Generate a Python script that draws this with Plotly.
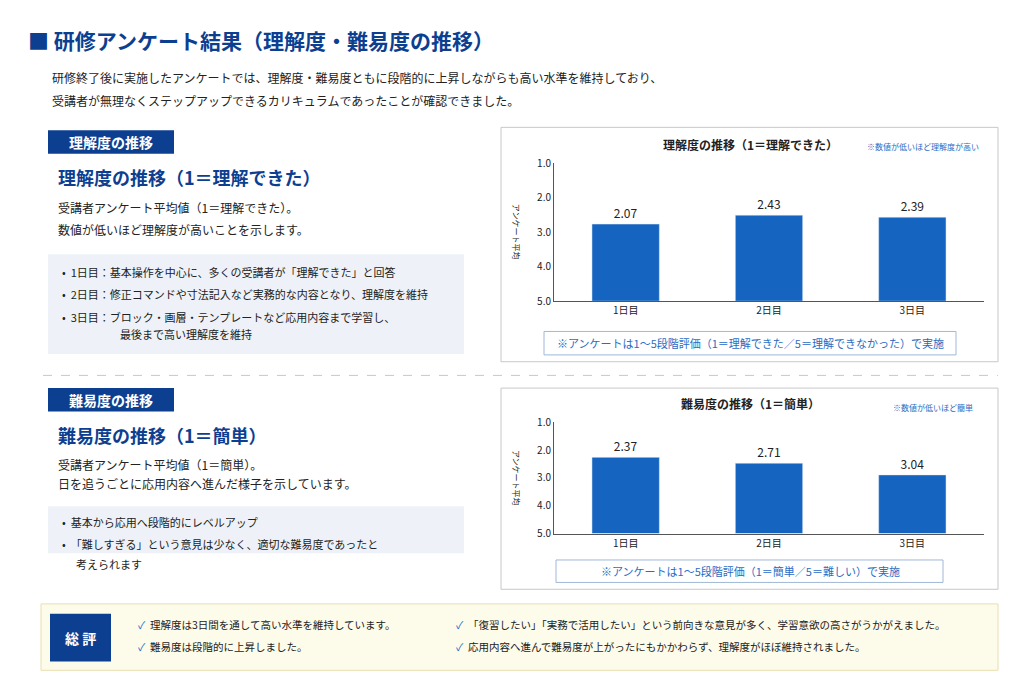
import plotly.graph_objects as go

days = ["1日目", "2日目", "3日目"]
# label values shown above bars, and bar tops as they are drawn in the picture
rikai_labels = ["2.07", "2.43", "2.39"]
rikai_tops = [2.76, 2.50, 2.56]
nani_labels = ["2.37", "2.71", "3.04"]
nani_tops = [2.26, 2.47, 2.89]
y_ticks = [1.0, 2.0, 3.0, 4.0, 5.0]

W, H = 1024, 683
NAVY = "#0d3f91"
BLUE = "#1565c0"
TXT = "#222222"
FONT = "Noto Sans CJK JP"

def px(x):
    return x / W

def py(y):
    return 1 - y / H

fig = go.Figure()

def add_chart(xa, ya, tops, labels, y0, y1):
    fig.add_trace(go.Bar(
        x=days, y=[t - 5 for t in tops], base=5, width=0.47,
        marker_color=BLUE, text=labels, textposition="outside",
        textfont=dict(size=12, color=TXT, family=FONT),
        cliponaxis=False, xaxis=xa, yaxis=ya, showlegend=False))
    n = xa[1:] if len(xa) > 1 else ""
    fig.layout["xaxis" + n] = dict(domain=[px(546), px(976)], anchor=ya,
                                    range=[-0.5, 2.5], showline=True, linecolor="#555",
                                    tickfont=dict(size=10, color=TXT), ticks="")
    fig.layout["yaxis" + n] = dict(domain=[py(y1), py(y0)], anchor=xa,
                                    range=[5, 1], tickvals=y_ticks,
                                    ticktext=[f"{v:.1f}" for v in y_ticks],
                                    showline=True, linecolor="#555", showgrid=False,
                                    zeroline=False, tickfont=dict(size=10, color=TXT))

add_chart("x", "y", rikai_tops, rikai_labels, 150, 291)
add_chart("x2", "y2", nani_tops, nani_labels, 415, 529)

shapes = []
ann = []

def rect(x0, y0, x1, y1, fill, line=None, lw=1, dash=None):
    shapes.append(dict(type="rect", xref="paper", yref="paper", layer="below",
                       x0=px(x0), x1=px(x1), y0=py(y1), y1=py(y0), fillcolor=fill,
                       line=dict(color=line or fill, width=lw if line else 0, dash=dash)))

def text(x, y, s, size=12, color=TXT, bold=False, anchor="left", angle=0):
    ann.append(dict(xref="paper", yref="paper", x=px(x), y=py(y), text=f"<b>{s}</b>" if bold else s,
                    showarrow=False, xanchor=anchor, yanchor="middle", textangle=angle,
                    font=dict(size=size, color=color, family=FONT)))

# header
text(18, 24, "■ 研修アンケート結果（理解度・難易度の推移）", 21, NAVY, True)
text(42, 62, "研修終了後に実施したアンケートでは、理解度・難易度ともに段階的に上昇しながらも高い水準を維持しており、", 12)
text(42, 85, "受講者が無理なくステップアップできるカリキュラムであったことが確認できました。", 12)

# chart cards
rect(493, 113, 990, 353, "white", "#c8c8c8")
rect(493, 380, 990, 586, "white", "#c8c8c8")
text(742, 131, "理解度の推移（1＝理解できた）", 12, TXT, True, "center")
text(915, 133, "※数値が低いほど理解度が高い", 8, "#2b6cc4", False, "center")
text(742, 396, "難易度の推移（1＝簡単）", 12, TXT, True, "center")
text(925, 400, "※数値が低いほど簡単", 8, "#2b6cc4", False, "center")
text(508, 220, "アンケート平均", 8, TXT, False, "center", 90)
text(508, 472, "アンケート平均", 8, TXT, False, "center", 90)
rect(536, 322, 948, 346, "white", "#9fb8d8")
text(742, 334, "※アンケートは1～5段階評価（1＝理解できた／5＝理解できなかった）で実施", 11, "#2b6cc4", False, "center")
rect(548, 556, 935, 579, "white", "#9fb8d8")
text(742, 567, "※アンケートは1～5段階評価（1＝簡単／5＝難しい）で実施", 11, "#2b6cc4", False, "center")

# left section 1
rect(40, 116, 166, 140, NAVY)
text(103, 128, "理解度の推移", 14, "white", True, "center")
text(48, 164, "理解度の推移（1＝理解できた）", 18, NAVY, True)
text(48, 195, "受講者アンケート平均値（1＝理解できた）。", 12)
text(48, 218, "数値が低いほど理解度が高いことを示します。", 12)
rect(40, 243, 456, 345, "#eef2f8")
text(52, 261, "•  1日目：基本操作を中心に、多くの受講者が「理解できた」と回答", 11)
text(52, 284, "•  2日目：修正コマンドや寸法記入など実務的な内容となり、理解度を維持", 11)
text(52, 307, "•  3日目：ブロック・画層・テンプレートなど応用内容まで学習し、", 11)
text(110, 325, "最後まで高い理解度を維持", 11)

shapes.append(dict(type="line", xref="paper", yref="paper", x0=px(35), x1=px(990),
                   y0=py(367), y1=py(367), line=dict(color="#c8c8c8", width=1, dash="dash")))

# left section 2
rect(40, 380, 166, 404, NAVY)
text(103, 392, "難易度の推移", 14, "white", True, "center")
text(48, 428, "難易度の推移（1＝簡単）", 18, NAVY, True)
text(48, 458, "受講者アンケート平均値（1＝簡単）。", 12)
text(48, 478, "日を追うごとに応用内容へ進んだ様子を示しています。", 12)
rect(40, 501, 456, 549, "#eef2f8")
text(52, 517, "•  基本から応用へ段階的にレベルアップ", 11)
text(52, 540, "•  「難しすぎる」という意見は少なく、適切な難易度であったと", 11)
text(66, 560, "考えられます", 11)

# summary
rect(33, 601, 990, 669, "#fdfbea", "#e8dfb0")
rect(42, 611, 103, 660, NAVY)
text(72, 636, "総 評", 14, "white", True, "center")
text(128, 622, "<span style='color:#2b6cc4'>✓</span>  理解度は3日間を通して高い水準を維持しています。", 10.5)
text(128, 645, "<span style='color:#2b6cc4'>✓</span>  難易度は段階的に上昇しました。", 10.5)
text(446, 622, "<span style='color:#2b6cc4'>✓</span>  「復習したい」「実務で活用したい」という前向きな意見が多く、学習意欲の高さがうかがえました。", 10.5)
text(446, 645, "<span style='color:#2b6cc4'>✓</span>  応用内容へ進んで難易度が上がったにもかかわらず、理解度がほぼ維持されました。", 10.5)

fig.update_layout(width=W, height=H, margin=dict(l=0, r=0, t=0, b=0),
                  paper_bgcolor="white", plot_bgcolor="white",
                  font=dict(family=FONT), shapes=shapes, annotations=ann, bargap=0.5)
fig.write_html("out.html")
